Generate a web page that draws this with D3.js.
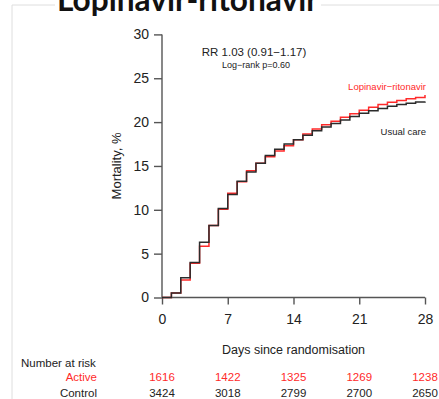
<!DOCTYPE html>
<html>
<head>
<meta charset="utf-8">
<script src="https://cdn.jsdelivr.net/npm/d3@7"></script>
<style>
  html, body { margin: 0; padding: 0; background: #fff; }
  svg { display: block; font-family: "Liberation Sans", Arial, sans-serif; }
</style>
</head>
<body>
<svg id="chart" width="439" height="399"></svg>
<script>
// Cumulative mortality (%) by day since randomisation, value held from day i to i+1
const days = d3.range(0, 29);
const activeMortality = [0, 0.5, 2.0, 3.9, 5.85, 8.2, 10.05, 11.9, 13.2, 14.45, 15.3, 16.05, 16.7, 17.3, 18.0,
  18.65, 19.2, 19.7, 20.1, 20.55, 20.95, 21.35, 21.7, 22.0, 22.25, 22.45, 22.65, 22.8, 23.1];
const controlMortality = [0, 0.5, 2.25, 4.0, 6.3, 8.2, 10.15, 11.75, 13.25, 14.3, 15.3, 16.2, 16.9, 17.5, 18.0,
  18.5, 19.0, 19.45, 19.85, 20.25, 20.65, 21.0, 21.3, 21.55, 21.8, 22.0, 22.15, 22.3, 22.35];

const xTicks = [0, 7, 14, 21, 28];
const yTicks = [0, 5, 10, 15, 20, 25, 30];
const riskGroups = ["Active", "Control"];
const activeAtRisk = [1616, 1422, 1325, 1269, 1238];
const controlAtRisk = [3424, 3018, 2799, 2700, 2650];

const svg = d3.select("#chart");
const red = "#ff2a2a";
const dark = "#2b2b2b";
const axisColor = "#555";

// light frame around the slide area
svg.append("path")
  .attr("d", "M12,399 L12,5 L439,5")
  .attr("fill", "none").attr("stroke", "#dedede").attr("stroke-width", 1);

// heading (clipped at the top edge)
svg.append("rect").attr("x", 55).attr("y", 0).attr("width", 266).attr("height", 14).attr("fill", "#fff");
svg.append("text")
  .attr("x", 57).attr("y", 11)
  .attr("font-family", "Lato, 'Open Sans', sans-serif")
  .attr("font-weight", "bold")
  .attr("font-size", 32)
  .attr("textLength", 261).attr("lengthAdjust", "spacingAndGlyphs")
  .attr("fill", "#111")
  .text("Lopinavir-ritonavir");

const x = d3.scaleLinear().domain([0, 28]).range([162, 425]);
const y = d3.scaleLinear().domain([0, 30]).range([297.5, 34.4]);

// y axis
const yAxis = svg.append("g").attr("transform", `translate(${x(0)},0)`)
  .call(d3.axisLeft(y).tickValues(yTicks).tickSize(8).tickPadding(5).tickFormat(d3.format("d")));
yAxis.select(".domain").attr("d", `M0,${y(0)}V${y(30)}`);
yAxis.selectAll("path, line").attr("stroke", axisColor).attr("stroke-width", 1.4);
yAxis.selectAll("text").attr("font-size", 14).attr("fill", "#222")
  .attr("font-family", "Liberation Sans, Arial, sans-serif");

// x axis
const xAxis = svg.append("g").attr("transform", `translate(0,${y(0)})`)
  .call(d3.axisBottom(x).tickValues(xTicks).tickSize(7).tickPadding(10).tickFormat(d3.format("d")));
xAxis.select(".domain").attr("d", `M${x(0)},0H${x(28)}`);
xAxis.selectAll("path, line").attr("stroke", axisColor).attr("stroke-width", 1.4);
xAxis.selectAll("text").attr("font-size", 14).attr("fill", "#222")
  .attr("font-family", "Liberation Sans, Arial, sans-serif");

// axis titles
svg.append("text")
  .attr("transform", `translate(121,${(y(0) + y(30)) / 2}) rotate(-90)`)
  .attr("text-anchor", "middle").attr("font-size", 13).attr("fill", "#222")
  .text("Mortality, %");
svg.append("text")
  .attr("x", (x(0) + x(28)) / 2).attr("y", 354)
  .attr("text-anchor", "middle").attr("font-size", 12.5).attr("fill", "#222")
  .text("Days since randomisation");

// Kaplan-Meier style step curves
const line = d3.line().x(d => x(d[0])).y(d => y(d[1])).curve(d3.curveStepAfter);
svg.append("path")
  .datum(days.map((d, i) => [d, activeMortality[i]]))
  .attr("d", line).attr("fill", "none").attr("stroke", red).attr("stroke-width", 1.5);
svg.append("path")
  .datum(days.map((d, i) => [d, controlMortality[i]]))
  .attr("d", line).attr("fill", "none").attr("stroke", dark).attr("stroke-width", 1.5);

// annotations
svg.append("text").attr("x", 254).attr("y", 56).attr("text-anchor", "middle")
  .attr("font-size", 11.5).attr("fill", "#222").text("RR 1.03 (0.91\u22121.17)");
svg.append("text").attr("x", 256).attr("y", 67.5).attr("text-anchor", "middle")
  .attr("font-size", 9).attr("fill", "#222").text("Log\u2212rank p=0.60");
svg.append("text").attr("x", 426).attr("y", 90).attr("text-anchor", "end")
  .attr("font-size", 9.5).attr("fill", red).text("Lopinavir\u2212ritonavir");
svg.append("text").attr("x", 426).attr("y", 135).attr("text-anchor", "end")
  .attr("font-size", 9.5).attr("fill", "#222").text("Usual care");

// number at risk table
svg.append("text").attr("x", 21).attr("y", 367).attr("font-size", 11.5).attr("fill", "#222")
  .text("Number at risk");
const rows = [
  { label: riskGroups[0], values: activeAtRisk, color: red, yPos: 381 },
  { label: riskGroups[1], values: controlAtRisk, color: "#222", yPos: 397 }
];
rows.forEach(r => {
  svg.append("text").attr("x", 97).attr("y", r.yPos).attr("text-anchor", "end")
    .attr("font-size", 11.5).attr("fill", r.color).text(r.label);
  svg.selectAll(null).data(r.values).enter().append("text")
    .attr("x", (d, i) => x(xTicks[i])).attr("y", r.yPos).attr("text-anchor", "middle")
    .attr("font-size", 11.5).attr("fill", r.color).text(d => d);
});
</script>
</body>
</html>
